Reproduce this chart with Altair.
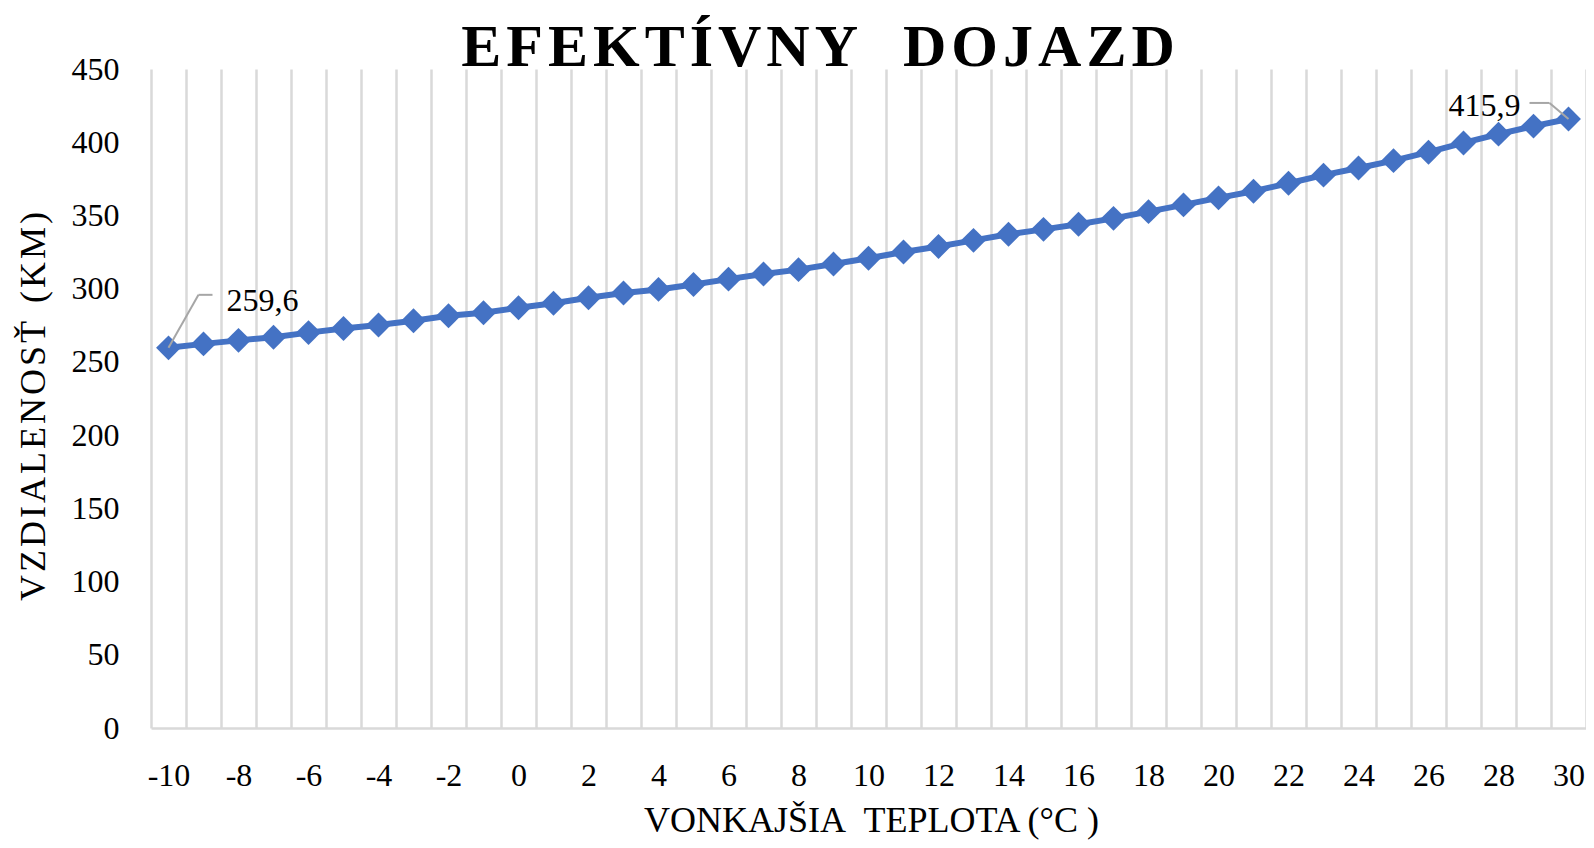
import altair as alt
import pandas as pd

# Outside temperature (°C) – one point per degree
temps = [-10, -9, -8, -7, -6, -5, -4, -3, -2, -1, 0, 1, 2, 3, 4, 5, 6, 7, 8, 9, 10,
         11, 12, 13, 14, 15, 16, 17, 18, 19, 20, 21, 22, 23, 24, 25, 26, 27, 28, 29, 30]
# Effective range (km)
range_km = [259.6, 262.3, 264.7, 266.8, 270.0, 272.8, 275.2, 278.1, 281.5, 283.6,
            287.0, 290.0, 293.8, 297.0, 299.5, 302.8, 306.5, 310.0, 313.0, 316.8,
            320.8, 325.0, 328.8, 333.0, 337.2, 340.5, 344.0, 348.0, 352.6, 357.2,
            362.0, 366.5, 372.0, 377.5, 382.4, 387.4, 393.2, 399.5, 405.5, 411.0, 415.9]
y_ticks = [0, 50, 100, 150, 200, 250, 300, 350, 400, 450]

label_first = {"t": [temps[0]], "km": [range_km[0]], "txt": ["259,6"]}
label_last = {"t": [temps[-1]], "km": [range_km[-1]], "txt": ["415,9"]}
title_word1 = "EFEKTÍVNY"
title_word2 = "DOJAZD"
y_title = "VZDIALENOSŤ"
y_unit = "(KM)"

df = pd.DataFrame({"t": temps, "km": range_km})
df_first = pd.DataFrame(label_first)
df_last = pd.DataFrame(label_last)
title_text = "\u200a".join(title_word1) + "\u00a0\u00a0\u00a0" + "\u200a".join(title_word2)
df_title = pd.DataFrame({"txt": [title_text]})
y_title_text = "\u200a".join(y_title) + "\u00a0\u00a0" + "\u200a".join(y_unit)

# category band boundaries (for the vertical gridlines)
grid_edges = [t - 0.5 for t in temps] + [temps[-1] + 0.5]

FONT = "Liberation Serif"
BLUE = "#4472C4"
GRID = "#d9d9d9"
LEAD = "#a6a6a6"

x_scale = alt.Scale(domain=[temps[0] - 0.5, temps[-1] + 0.5], nice=False, zero=False)
y_scale = alt.Scale(domain=[0, 450], nice=False)

x_axis = alt.Axis(
    values=grid_edges, grid=True, gridColor=GRID, gridWidth=2.5,
    ticks=False, domain=True, domainColor=GRID, domainWidth=2.5,
    labelExpr="(datum.value + 0.5) % 2 == 0 ? '' + (datum.value + 0.5) : ''",
    labelOffset=17.5, labelFlush=False, labelOverlap=False,
    labelFont=FONT, labelFontSize=32, labelColor="black",
    labelBaseline="alphabetic", labelPadding=57,
    title="VONKAJŠIA\u00a0 TEPLOTA (°C )", titleFont=FONT, titleFontSize=36,
    titleFontWeight="normal", titleColor="black",
    titleX=720, titleY=103, titleAlign="center", titleBaseline="alphabetic",
)
y_axis = alt.Axis(
    values=y_ticks, grid=False, ticks=False, domain=False,
    labelFont=FONT, labelFontSize=32, labelColor="black", labelPadding=32,
    title=y_title_text, titleFont=FONT, titleFontSize=36,
    titleFontWeight="normal", titleColor="black",
    titleAngle=270, titleX=-118, titleY=337, titleAlign="center", titleBaseline="middle",
)

X = alt.X("t:Q", scale=x_scale, axis=x_axis)
Y = alt.Y("km:Q", scale=y_scale, axis=y_axis)
X2 = alt.X2("t")
Y2 = alt.Y2("km")

line = alt.Chart(df).mark_line(color=BLUE, strokeWidth=6).encode(x=X, y=Y)
pts = alt.Chart(df).mark_point(shape="diamond", filled=True, size=620,
                               color=BLUE, opacity=1).encode(x=X, y=Y)

l_diag = alt.Chart(df_first).mark_rule(color=LEAD, strokeWidth=2,
                                       x2Offset=30, y2Offset=-53).encode(x=X, y=Y, x2=X2, y2=Y2)
l_hor = alt.Chart(df_first).mark_rule(color=LEAD, strokeWidth=2, xOffset=30, yOffset=-53,
                                      x2Offset=44, y2Offset=-53).encode(x=X, y=Y, x2=X2, y2=Y2)
l_txt = alt.Chart(df_first).mark_text(align="left", baseline="middle", dx=58, dy=-47,
                                      font=FONT, fontSize=32, color="black").encode(x=X, y=Y, text="txt:N")

r_diag = alt.Chart(df_last).mark_rule(color=LEAD, strokeWidth=2,
                                      x2Offset=-19, y2Offset=-16).encode(x=X, y=Y, x2=X2, y2=Y2)
r_hor = alt.Chart(df_last).mark_rule(color=LEAD, strokeWidth=2, xOffset=-19, yOffset=-16,
                                     x2Offset=-39, y2Offset=-16).encode(x=X, y=Y, x2=X2, y2=Y2)
r_txt = alt.Chart(df_last).mark_text(align="right", baseline="middle", dx=-48, dy=-13,
                                     font=FONT, fontSize=32, color="black").encode(x=X, y=Y, text="txt:N")

# chart title (drawn as a text mark just above the plot area)
title = alt.Chart(df_title).mark_text(align="center", baseline="alphabetic",
                                      font=FONT, fontSize=60, fontWeight="bold",
                                      color="black").encode(
    x=alt.value(667), y=alt.value(-3), text="txt:N")

chart = alt.layer(line, pts, l_diag, l_hor, r_diag, r_hor, l_txt, r_txt, title).properties(
    width=1435, height=659,
    padding={"left": 143, "top": 61, "right": 0, "bottom": 112},
    autosize=alt.AutoSizeParams(type="none"),
).configure_view(stroke=None)

chart.save("out.html", embed_options={"renderer": "svg", "actions": False})
